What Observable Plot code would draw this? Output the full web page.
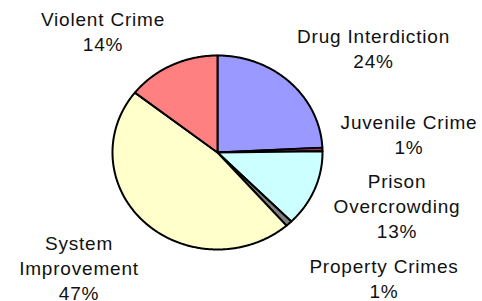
<!DOCTYPE html>
<html><head><meta charset="utf-8">
<script src="https://cdn.jsdelivr.net/npm/d3@7"></script>
<script src="https://cdn.jsdelivr.net/npm/@observablehq/plot@0.6"></script>
<style>html,body{margin:0;padding:0;background:#fff} svg{display:block}</style>
</head><body><div id="chart"></div>
<script>
// ---- data ----
const categories = ["Drug Interdiction","Juvenile Crime","Prison Overcrowding","Property Crimes","System Improvement","Violent Crime"];
const shares = [24.2, 0.6, 12.8, 1.0, 47.0, 14.4];
const sliceColors = ["#9999ff","#993366","#ccffff","#808080","#ffffcc","#ff8080"];
const labelLines = [["Drug Interdiction"],["Juvenile Crime"],["Prison","Overcrowding"],["Property Crimes"],["System","Improvement"],["Violent Crime"]];

// ---- layout (pixels): label center x, first baseline y ----
const labelLayout = [[373,43.5],[408.5,128.8],[396.5,188],[383.5,273.5],[78.5,250],[102.5,25.8]];
const W = 482, H = 301, CX = 217, CY = 152, RX = 105, RY = 97, FS = 19, LH = 25, SHIFT = -5;

const total = d3.sum(shares);
const slices = [];
let acc = 0;
shares.forEach((v, i) => {
  const a0 = acc / total * 2 * Math.PI;
  acc += v;
  const a1 = acc / total * 2 * Math.PI;
  const n = Math.max(2, Math.ceil((a1 - a0) / 0.01));
  slices.push({k: i, x: 0, y: 0, c: sliceColors[i]});
  for (let j = 0; j <= n; j++) {
    const a = a0 + (a1 - a0) * j / n;
    slices.push({k: i, x: Math.sin(a), y: Math.cos(a), c: sliceColors[i]});
  }
});

const labels = categories.map((c, i) => {
  const [px, base] = labelLayout[i];
  const top = base - 0.71 * FS + SHIFT;
  return {
    x: (px - CX) / RX,
    y: (CY - top) / RY,
    text: [...labelLines[i], Math.round(shares[i]) + "%"].join("\n")
  };
});

const chart = Plot.plot({
  width: W, height: H,
  margin: 0,
  x: {domain: [-1, 1], range: [CX - RX, CX + RX], axis: null},
  y: {domain: [-1, 1], range: [CY + RY, CY - RY], axis: null},
  style: {fontFamily: "'Liberation Sans', Arial, sans-serif", background: "#fff", overflow: "visible"},
  marks: [
    Plot.line(slices, {x: "x", y: "y", z: "k", fill: "c", stroke: "#000", strokeWidth: 2, curve: "linear-closed", strokeLinejoin: "round"}),
    Plot.text(labels, {x: "x", y: "y", text: "text", fontSize: FS, lineHeight: LH / FS, lineAnchor: "top", textAnchor: "middle", fill: "#111"})
  ]
});
chart.querySelectorAll("text").forEach(t => t.style.letterSpacing = "0.8px");
document.getElementById("chart").appendChild(chart);
</script>
</body></html>
